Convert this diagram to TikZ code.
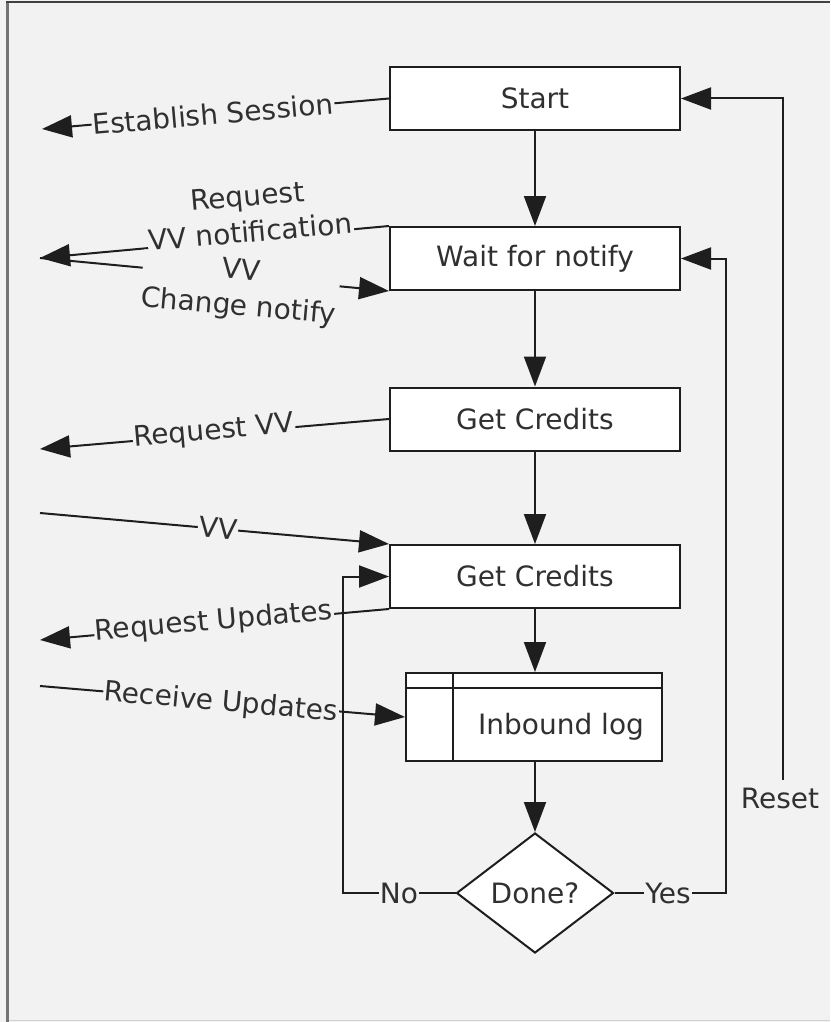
\documentclass[tikz,border=0pt]{standalone}
\usepackage{fontspec}
\setmainfont{DejaVu Sans}
\usetikzlibrary{arrows.meta,shapes.geometric,calc}
\definecolor{bg}{HTML}{F2F2F2}
\definecolor{ln}{HTML}{1E1E1E}
\definecolor{tx}{HTML}{303030}
\newcommand\lblfont{\fontsize{28}{36}\selectfont}
\begin{document}
\begin{tikzpicture}[x=1pt,y=-1pt,
  box/.style={draw=ln, line width=2pt, fill=white, minimum width=290pt, minimum height=63pt, inner sep=0pt, font=\lblfont, text=tx},
  conn/.style={draw=ln, line width=2pt, -{Triangle[length=30pt,width=22pt]}},
  plain/.style={draw=ln, line width=2pt},
  lbl/.style={fill=bg, inner sep=1pt, text=tx, font=\lblfont, align=center},
  txt/.style={inner sep=0pt, text=tx, font=\lblfont, align=center}
]
\fill[bg] (0,0) rectangle (830,1022);
\useasboundingbox (0,0) rectangle (830,1022);
% frame
\draw[black!55, line width=3pt] (7.5,1022) -- (7.5,2);
\draw[black!75, line width=2.5pt] (6,2) -- (830,2);
\draw[black!18, line width=1pt] (9,1020.5) -- (830,1020.5);

% main nodes
\node[box] (start) at (535,98.5) {Start};
\node[box] (wait) at (535,258.5) {Wait for notify};
\node[box] (gc1) at (535,419) {Get Credits};
\node[box] (gc2) at (535,576.5) {Get Credits};
\node[box, minimum width=256pt, minimum height=88pt] (inb) at (534,717) {};
\draw[plain] ($(inb.north west)+(0,16)$) -- ($(inb.north east)+(0,16)$);
\draw[plain] ($(inb.north west)+(48,0)$) -- ($(inb.south west)+(48,0)$);
\node[txt] (inbt) at (561,727) {Inbound log};
\node[diamond, draw=ln, line width=2pt, fill=white, minimum width=157pt, minimum height=120pt, inner sep=0pt, font=\lblfont, text=tx] (done) at (535,893) {Done?};

% main flow
\draw[conn] (start.south) -- (wait.north);
\draw[conn] (wait.south) -- (gc1.north);
\draw[conn] (gc1.south) -- (gc2.north);
\draw[conn] (gc2.south) -- (gc2.south |- inb.north);
\draw[conn] (done.north |- inb.south) -- (done.north);

% left side messages
\coordinate (es) at (42,129);
\draw[conn] (start.west) -- (es);
\node[lbl, rotate=5] (esl) at (213,114) {Establish Session};

\coordinate (rvn) at (40,258);
\draw[conn] (wait.north west) -- (rvn);
\draw[conn] (rvn) -- (wait.south west);
\node[lbl, rotate=5] (rvnl) at (249,214) {Request\\VV notification};
\node[lbl, rotate=-5] (vcnl) at (240,290) {VV\\Change notify};

\coordinate (rv) at (40,449);
\draw[conn] (gc1.west) -- (rv);
\node[lbl, rotate=5] (rvl) at (214,432) {Request VV};

\coordinate (vvs) at (40,513);
\draw[conn] (vvs) -- (gc2.north west);
\node[lbl, rotate=-5] (vvl) at (218,528) {VV};

\coordinate (ru) at (40,640);
\draw[conn] (gc2.south west) -- (ru);
\node[lbl, rotate=5] (rul) at (214,622) {Request Updates};

\coordinate (rcu) at (40,686);
\draw[conn] (rcu) -- (inb.west);
\node[lbl, rotate=-5] (rcul) at (221,703) {Receive Updates};

% loops
\coordinate (nox) at (343,0);
\draw[conn] (done.west) -| (nox |- gc2.west) -- (gc2.west);
\coordinate (yesx) at (726,0);
\draw[conn] (done.east) -| (yesx |- wait.east) -- (wait.east);
\coordinate (rst) at (783,780);
\draw[conn] (rst) |- (start.east);
\node[lbl] (no) at (399,893) {No};
\node[lbl] (yes) at (668,893) {Yes};
\node[txt] (reset) at (780,798) {Reset};
\end{tikzpicture}
\end{document}
